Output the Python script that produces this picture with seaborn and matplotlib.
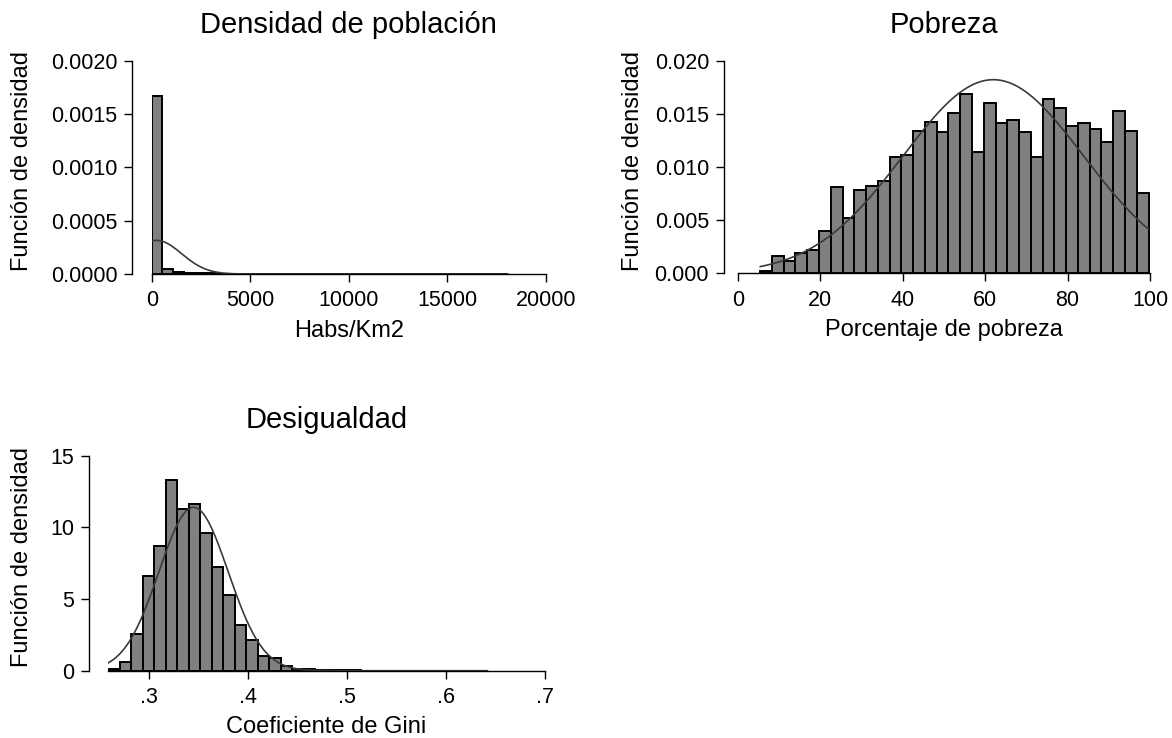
import numpy as np
import pandas as pd
import matplotlib
matplotlib.use("Agg")
import matplotlib.pyplot as plt
import seaborn as sns

# ---------------- data ----------------
# Densidad de población (Habs/Km2): 33 bins
dens_start = 0.0
dens_width = 548.0
dens_heights = [0.00167, 0.000050, 0.000022, 0.000010, 0.000007, 0.000005,
                0.000004, 0.000003, 0.000003, 0.000002, 0.000002, 0.000002,
                0.000002, 0.000001, 0.000001, 0.000001, 0.000001, 0.000001,
                0.000001, 0.000001, 0.000001, 0.000001, 0.000001, 0.000001,
                0.000001, 0.000001, 0.000001, 0.000001, 0.000001, 0.000001,
                0.000001, 0.000001, 0.000001]
dens_mean = 250.0
dens_sd = 1266.0

# Pobreza (Porcentaje de pobreza): 33 bins
pob_start = 5.44
pob_width = 2.855
pob_heights = [0.00025, 0.00166, 0.00119, 0.00191, 0.00223, 0.00398, 0.00812,
               0.00524, 0.00784, 0.00821, 0.00868, 0.01097, 0.01110, 0.01342,
               0.01426, 0.01326, 0.01511, 0.01687, 0.01141, 0.01599, 0.01414,
               0.01442, 0.01329, 0.01097, 0.01643, 0.01555, 0.01386, 0.01411,
               0.01357, 0.01238, 0.01530, 0.01342, 0.00752]
pob_mean = 62.0
pob_sd = 21.9

# Desigualdad (Coeficiente de Gini): 33 bins
gini_start = 0.2585
gini_width = 0.01163
gini_heights = [0.10, 0.58, 2.53, 6.63, 8.67, 13.30, 11.26, 11.63, 9.58, 7.21,
                5.26, 3.21, 2.12, 1.05, 0.86, 0.30, 0.14, 0.09, 0.05, 0.03,
                0.02, 0.02, 0.01, 0.01, 0.01, 0.01, 0.01, 0.01, 0.005, 0.005,
                0.005, 0.005, 0.01]
gini_mean = 0.345
gini_sd = 0.035

titles = ["Densidad de población", "Pobreza", "Desigualdad"]
xlabels = ["Habs/Km2", "Porcentaje de pobreza", "Coeficiente de Gini"]
ylabel = "Función de densidad"

dens_xticks = [0, 5000, 10000, 15000, 20000]
dens_xticklabels = ["0", "5000", "10000", "15000", "20000"]
dens_yticks = [0, 0.0005, 0.0010, 0.0015, 0.0020]
dens_yticklabels = ["0.0000", "0.0005", "0.0010", "0.0015", "0.0020"]

pob_xticks = [0, 20, 40, 60, 80, 100]
pob_xticklabels = ["0", "20", "40", "60", "80", "100"]
pob_yticks = [0, 0.005, 0.010, 0.015, 0.020]
pob_yticklabels = ["0.000", "0.005", "0.010", "0.015", "0.020"]

gini_xticks = [0.3, 0.4, 0.5, 0.6, 0.7]
gini_xticklabels = [".3", ".4", ".5", ".6", ".7"]
gini_yticks = [0, 5, 10, 15]
gini_yticklabels = ["0", "5", "10", "15"]

# ---------------- style ----------------
sns.set_style("ticks")
plt.rcParams["font.family"] = ["Liberation Sans", "DejaVu Sans"]
plt.rcParams["axes.edgecolor"] = "black"
plt.rcParams["axes.linewidth"] = 1.0
plt.rcParams["text.color"] = "black"
plt.rcParams["axes.labelcolor"] = "black"
plt.rcParams["axes.titlecolor"] = "black"
plt.rcParams["xtick.color"] = "black"
plt.rcParams["ytick.color"] = "black"

W, H = 1172, 738
fig = plt.figure(figsize=(W / 100, H / 100), dpi=100)
fig.patch.set_facecolor("white")

BAR = "#808080"
CURVE = "#3a3a3a"


def panel(rect_px, start, width, heights, mu, sd, xlim, ylim,
          xticks, xtl, yticks, ytl, title, xlabel, spine_out_px, ylab_x_px,
          ylab_y_px):
    l, r, t, b = rect_px
    ax = fig.add_axes([l / W, 1 - b / H, (r - l) / W, (b - t) / H])
    n = len(heights)
    end = start + width * n
    centers = start + width * (np.arange(n) + 0.5)
    df = pd.DataFrame({"x": centers, "w": np.asarray(heights, dtype=float)})
    sns.histplot(data=df, x="x", weights="w", binwidth=width,
                 binrange=(start, end), stat="count",
                 color=BAR, edgecolor="black", linewidth=1.4, alpha=1,
                 ax=ax)
    xs = np.linspace(start, end, 500)
    ys = np.exp(-0.5 * ((xs - mu) / sd) ** 2) / (sd * np.sqrt(2 * np.pi))
    sns.lineplot(x=xs, y=ys, color=CURVE, linewidth=1.2, ax=ax)
    ax.set_xlim(*xlim)
    ax.set_ylim(*ylim)
    ax.set_xticks(xticks)
    ax.set_xticklabels(xtl)
    ax.set_yticks(yticks)
    ax.set_yticklabels(ytl)
    ax.tick_params(axis="both", direction="out", length=5.8, width=1.0,
                   labelsize=15.5, color="black", labelcolor="black")
    ax.tick_params(axis="x", pad=6)
    ax.tick_params(axis="y", pad=5)
    sns.despine(ax=ax)
    ax.spines["left"].set_position(("outward", spine_out_px * 0.72))
    ax.set_title(title, fontsize=21, pad=20, color="black")
    ax.set_xlabel(xlabel, fontsize=17, labelpad=6, color="black")
    ax.set_ylabel(ylabel, fontsize=17, va="center", ha="center",
                  color="black")
    ax.yaxis.set_label_coords(ylab_x_px / W, 1 - ylab_y_px / H,
                              transform=fig.transFigure)
    ax.patch.set_alpha(0)
    return ax


panel((151.7, 545.7, 60.7, 274.0), dens_start, dens_width, dens_heights,
      dens_mean, dens_sd, (0, 20000), (0, 0.0020), dens_xticks,
      dens_xticklabels, dens_yticks, dens_yticklabels, titles[0], xlabels[0],
      19.4, 22, 161)

panel((737.7, 1150.0, 60.7, 273.5), pob_start, pob_width, pob_heights,
      pob_mean, pob_sd, (0, 100), (0, 0.020), pob_xticks, pob_xticklabels,
      pob_yticks, pob_yticklabels, titles[1], xlabels[1], 13.7, 633, 161)

panel((108.0, 544.6, 455.7, 670.7), gini_start, gini_width, gini_heights,
      gini_mean, gini_sd, (0.2585, 0.7), (0, 15), gini_xticks,
      gini_xticklabels, gini_yticks, gini_yticklabels, titles[2], xlabels[2],
      19.0, 22, 557)

fig.savefig("out.png", dpi=100, facecolor="white")
